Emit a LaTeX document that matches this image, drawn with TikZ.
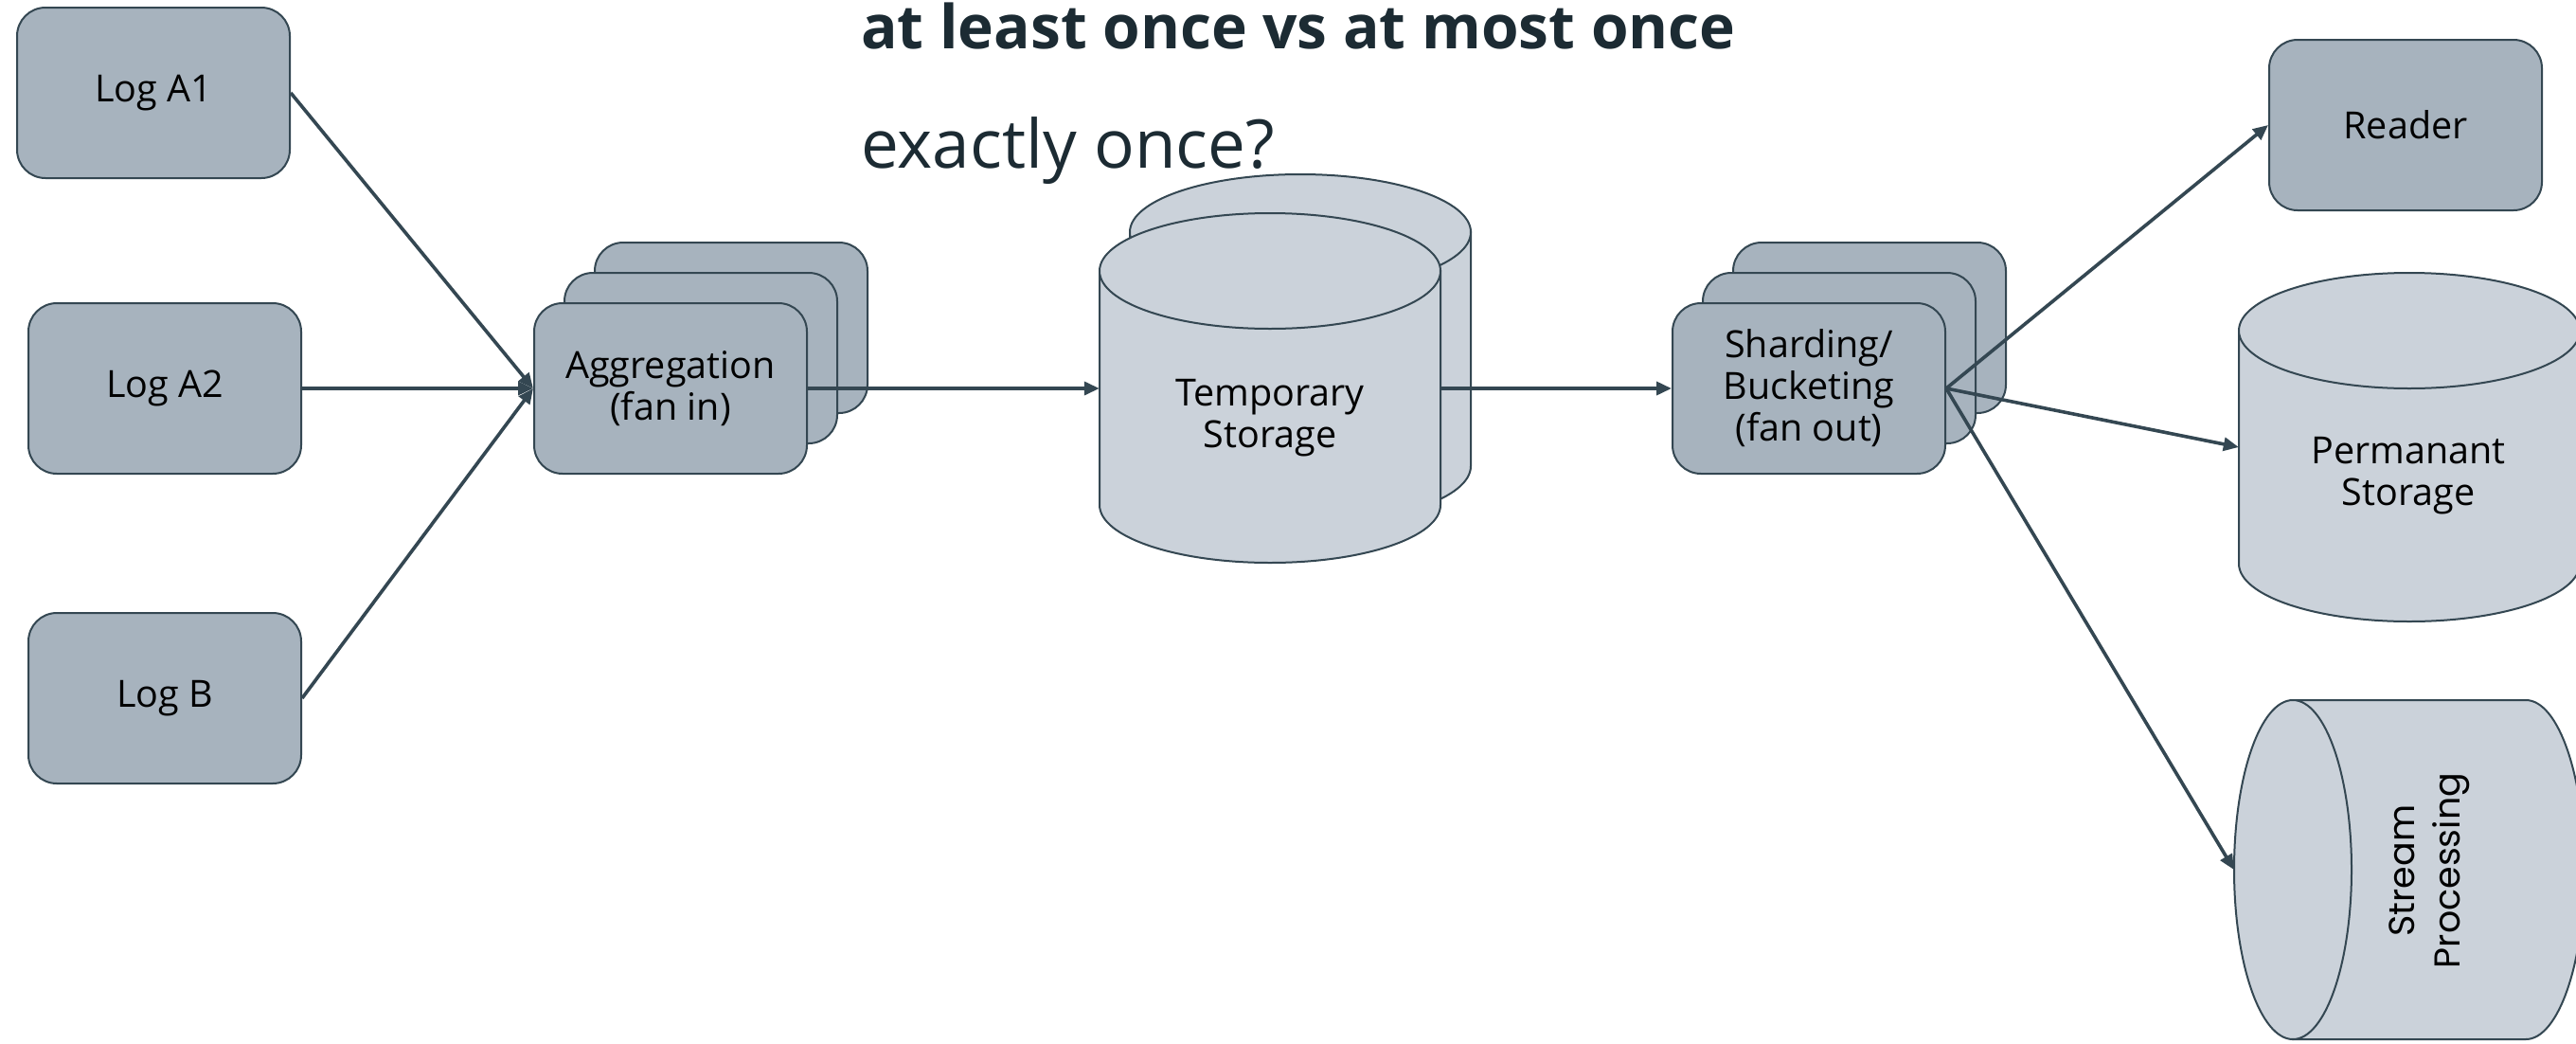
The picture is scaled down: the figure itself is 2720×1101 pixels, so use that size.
\documentclass[tikz,border=0pt]{standalone}
\usepackage{fontspec}
\setmainfont{Open Sans}
\newfontfamily\streamfont{Poppins}
\usetikzlibrary{arrows.meta}

\definecolor{boxfill}{RGB}{167,179,190}
\definecolor{cylfill}{RGB}{203,210,218}
\definecolor{edgecol}{RGB}{52,71,82}
\definecolor{titlecol}{RGB}{28,43,51}

% vertical cylinder: centre x, top-cap centre y, bottom-cap centre y
\newcommand{\vcylinder}[3]{%
  \path[cylpart] (#1-180,#2) -- (#1-180,#3)
    arc[start angle=180,end angle=360,x radius=180pt,y radius=61pt]
    -- (#1+180,#2) -- cycle;
  \path[cylpart] (#1,#2) ellipse[x radius=180pt,y radius=61pt];
}

\begin{document}
\begin{tikzpicture}[x=1pt,y=-1pt,
  cylpart/.style={draw=edgecol,fill=cylfill,line width=2pt},
  logbox/.style={draw=edgecol,fill=boxfill,line width=2pt,rounded corners=30pt,
    minimum width=288pt,minimum height=180pt,inner sep=0pt,align=center,
    font=\fontsize{39.5pt}{44pt}\selectfont,text=black},
  cylnode/.style={draw=none,inner sep=0pt},
  cyltext/.style={align=center,font=\fontsize{39.5pt}{44pt}\selectfont,text=black},
  conn/.style={draw=edgecol,line width=3.6pt,-{Triangle[length=16pt,width=14pt]}},
  titletext/.style={anchor=base west,text=titlecol,inner sep=0pt}
]
\useasboundingbox (0,0) rectangle (2720,1101);
\fill[white] (0,0) rectangle (2720,1101);

% sources
\node[logbox] (a1) at (162,98) {Log A1};
\node[logbox] (a2) at (174,410) {Log A2};
\node[logbox] (b) at (174,737) {Log B};

% aggregation stack
\node[logbox] (aggback) at (772,346) {};
\node[logbox] (aggmid) at (740,378) {};
\node[logbox] (agg) at (708,410) {Aggregation\\(fan in)};

% temporary storage (two cylinders)
\vcylinder{1373}{245}{492}
\vcylinder{1341}{286}{533}
\node[cylnode,minimum width=360pt,minimum height=369pt] (temp) at (1341,410) {};
\node[cyltext] (templabel) at (1341,441) {Temporary\\Storage};

% sharding stack
\node[logbox] (shardback) at (1974,346) {};
\node[logbox] (shardmid) at (1942,378) {};
\node[logbox] (shard) at (1910,410) {Sharding/\\Bucketing\\(fan out)};

% sinks
\node[logbox] (reader) at (2540,132) {Reader};

\vcylinder{2544}{349}{595}
\node[cylnode,minimum width=360pt,minimum height=368pt] (perm) at (2544,472) {};
\node[cyltext] (permlabel) at (2543,502) {Permanant\\Storage};

% stream processing: cylinder lying on its side
\path[cylpart] (2421,739) -- (2667,739)
  arc[start angle=90,end angle=-90,x radius=62pt,y radius=179pt]
  -- (2421,1097) -- cycle;
\path[cylpart] (2421,918) ellipse[x radius=62pt,y radius=179pt];
\node[cylnode,minimum width=370pt,minimum height=358pt] (stream) at (2544,918) {};
\node[align=center,rotate=90,font=\streamfont\fontsize{38pt}{48pt}\selectfont,text=black]
  (streamlabel) at (2565,919) {Stream\\Processing};

% headings
\node[titletext,font=\bfseries\fontsize{64pt}{76pt}\selectfont] (title) at (909,51)
  {at least once vs at most once};
\node[titletext,font=\fontsize{71pt}{84pt}\selectfont] (subtitle) at (909,177)
  {exactly once?};

% connectors
\draw[conn] (a1.east) -- (agg.west);
\draw[conn] (a2.east) -- (agg.west);
\draw[conn] (b.east) -- (agg.west);
\draw[conn] (agg.east) -- (temp.west);
\draw[conn] (temp.east) -- (shard.west);
\draw[conn] (shard.east) -- (reader.west);
\draw[conn] (shard.east) -- (perm.west);
\draw[conn] (shard.east) -- (stream.west);
\end{tikzpicture}
\end{document}
